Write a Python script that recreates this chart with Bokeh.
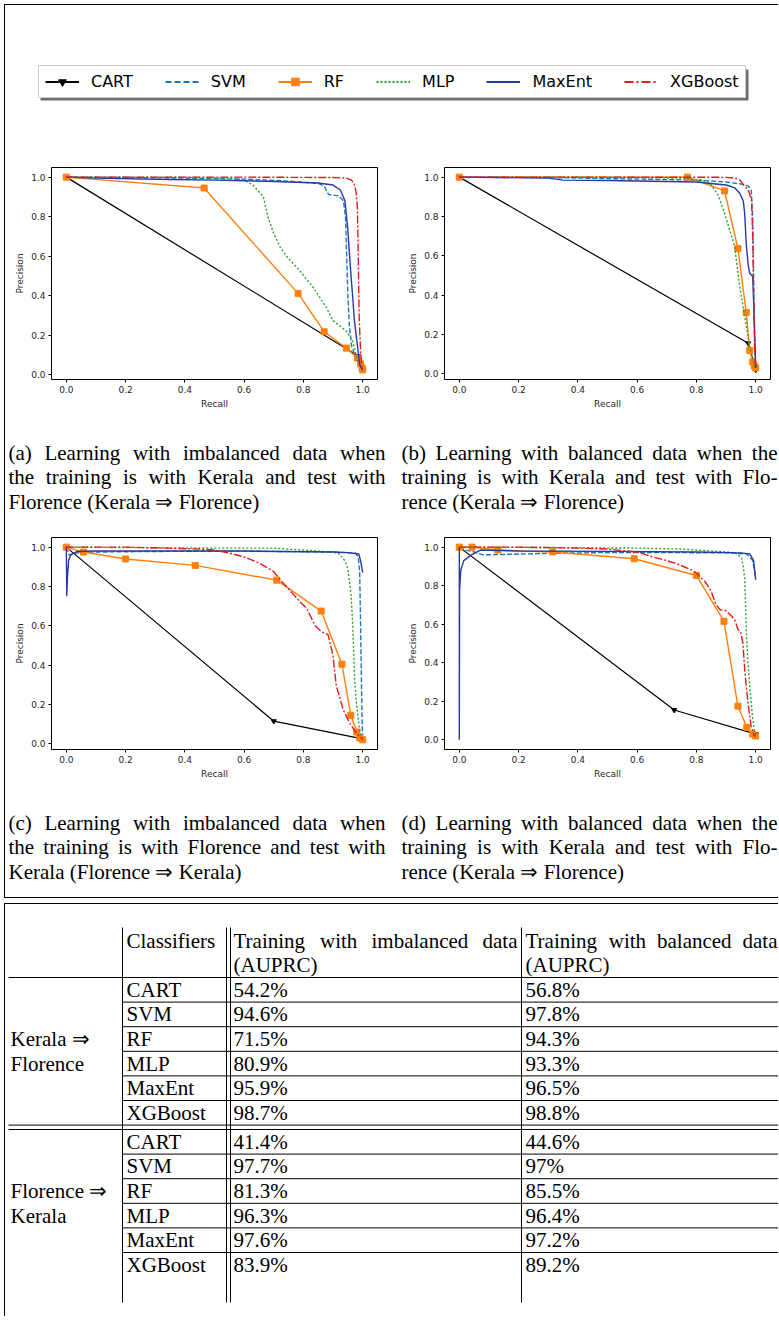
from bokeh.plotting import figure
from bokeh.models import (Range1d, FixedTicker, PrintfTickFormatter, Legend,
                          LegendItem, ColumnDataSource, BoxAnnotation)
from bokeh.layouts import column, row
from bokeh.embed import file_html
from bokeh.resources import INLINE
from bokeh.core.properties import value

classifiers = ["CART", "SVM", "RF", "MLP", "MaxEnt", "XGBoost"]

# ---------- (a) imbalanced, Kerala => Florence ----------
a_cart_recall = [0.0, 0.985, 1.0]
a_cart_precision = [1.0, 0.095, 0.025]
a_svm_recall = [0.0, 0.2, 0.4, 0.6, 0.75, 0.85, 0.87, 0.885, 0.92, 0.935, 0.942, 0.946, 0.95, 0.955, 0.962, 0.975, 0.99, 1.0]
a_svm_precision = [1.0, 0.998, 0.995, 0.99, 0.98, 0.968, 0.955, 0.912, 0.905, 0.88, 0.8, 0.6, 0.4, 0.25, 0.15, 0.09, 0.045, 0.025]
a_rf_recall = [0.0, 0.465, 0.782, 0.87, 0.945, 0.982, 0.993, 0.998, 1.0]
a_rf_precision = [1.0, 0.945, 0.412, 0.218, 0.135, 0.085, 0.055, 0.035, 0.025]
a_mlp_recall = [0.0, 0.2, 0.4, 0.55, 0.6, 0.63, 0.665, 0.68, 0.70, 0.72, 0.745, 0.787, 0.832, 0.877, 0.9, 0.944, 0.966, 0.983, 0.995, 1.0]
a_mlp_precision = [1.0, 1.0, 0.999, 0.995, 0.985, 0.96, 0.9, 0.8, 0.715, 0.65, 0.596, 0.528, 0.444, 0.342, 0.274, 0.223, 0.172, 0.07, 0.04, 0.025]
a_maxent_recall = [0.0, 0.1, 0.35, 0.5, 0.7, 0.85, 0.9, 0.925, 0.94, 0.949, 0.955, 0.961, 0.967, 0.972, 0.983, 0.99, 1.0]
a_maxent_precision = [1.0, 0.995, 0.988, 0.985, 0.978, 0.97, 0.96, 0.935, 0.88, 0.75, 0.62, 0.495, 0.38, 0.275, 0.139, 0.05, 0.025]
a_xgb_recall = [0.0, 0.3, 0.6, 0.9, 0.945, 0.962, 0.972, 0.978, 0.982, 0.984, 0.986, 0.988, 0.992, 0.996, 1.0]
a_xgb_precision = [1.0, 1.0, 1.0, 0.998, 0.995, 0.985, 0.965, 0.92, 0.85, 0.7, 0.5, 0.3, 0.15, 0.06, 0.025]

# ---------- (b) balanced, Kerala => Florence ----------
b_cart_recall = [0.0, 0.975, 1.0]
b_cart_precision = [1.0, 0.155, 0.02]
b_svm_recall = [0.0, 0.3, 0.6, 0.8, 0.9, 0.95, 0.975, 0.985, 0.99, 0.993, 0.996, 1.0]
b_svm_precision = [1.0, 0.998, 0.99, 0.985, 0.975, 0.965, 0.955, 0.935, 0.8, 0.5, 0.2, 0.03]
b_rf_recall = [0.0, 0.77, 0.895, 0.94, 0.968, 0.98, 0.99, 0.995, 1.0]
b_rf_precision = [1.0, 1.0, 0.93, 0.637, 0.312, 0.118, 0.06, 0.04, 0.03]
b_mlp_recall = [0.0, 0.3, 0.6, 0.75, 0.82, 0.85, 0.873, 0.895, 0.916, 0.929, 0.946, 0.963, 0.98, 0.997, 1.0]
b_mlp_precision = [1.0, 1.0, 0.998, 0.995, 0.985, 0.96, 0.91, 0.815, 0.713, 0.647, 0.445, 0.291, 0.139, 0.036, 0.025]
b_maxent_recall = [0.0, 0.3, 0.35, 0.5, 0.7, 0.8, 0.9, 0.93, 0.946, 0.958, 0.963, 0.968, 0.975, 0.98, 0.99, 0.996, 1.0]
b_maxent_precision = [1.0, 0.995, 0.985, 0.983, 0.978, 0.975, 0.96, 0.945, 0.918, 0.88, 0.815, 0.664, 0.55, 0.511, 0.495, 0.24, 0.03]
b_xgb_recall = [0.0, 0.5, 0.9, 0.93, 0.946, 0.96, 0.975, 0.986, 0.99, 0.993, 0.996, 1.0]
b_xgb_precision = [1.0, 1.0, 0.999, 0.995, 0.986, 0.96, 0.935, 0.885, 0.7, 0.4, 0.15, 0.03]

# ---------- (c) imbalanced, Florence => Kerala ----------
c_cart_recall = [0.0, 0.70, 1.0]
c_cart_precision = [1.0, 0.115, 0.025]
c_svm_recall = [0.0, 0.01, 0.03, 0.1, 0.3, 0.6, 0.9, 0.975, 0.985, 0.99, 0.993, 0.996, 0.998, 1.0]
c_svm_precision = [1.0, 0.96, 0.97, 0.975, 0.978, 0.98, 0.975, 0.97, 0.95, 0.87, 0.6, 0.3, 0.12, 0.025]
c_rf_recall = [0.0, 0.058, 0.2, 0.435, 0.71, 0.86, 0.93, 0.96, 0.98, 0.99, 1.0]
c_rf_precision = [1.0, 0.975, 0.94, 0.907, 0.832, 0.675, 0.405, 0.145, 0.06, 0.03, 0.02]
c_mlp_recall = [0.0, 0.2, 0.5, 0.7, 0.8, 0.9, 0.922, 0.94, 0.95, 0.956, 0.961, 0.964, 0.967, 0.97, 0.973, 0.978, 0.984, 0.99, 0.995, 1.0]
c_mlp_precision = [1.0, 0.998, 0.995, 0.995, 0.985, 0.975, 0.965, 0.93, 0.889, 0.82, 0.752, 0.67, 0.58, 0.45, 0.325, 0.22, 0.139, 0.07, 0.035, 0.025]
c_maxent_recall = [0.0, 0.0015, 0.004, 0.008, 0.015, 0.036, 0.1, 0.3, 0.6, 0.9, 0.95, 0.987, 0.993, 1.0]
c_maxent_precision = [1.0, 0.75, 0.85, 0.935, 0.96, 0.978, 0.98, 0.98, 0.98, 0.975, 0.972, 0.965, 0.93, 0.87]
c_xgb_recall = [0.0, 0.2, 0.45, 0.5, 0.55, 0.6, 0.65, 0.7, 0.73, 0.76, 0.79, 0.81, 0.84, 0.86, 0.883, 0.892, 0.9, 0.911, 0.922, 0.934, 0.945, 0.956, 0.978, 0.995, 1.0]
c_xgb_precision = [1.0, 1.0, 0.99, 0.985, 0.97, 0.95, 0.92, 0.875, 0.82, 0.77, 0.72, 0.69, 0.6, 0.57, 0.555, 0.5, 0.446, 0.293, 0.24, 0.174, 0.14, 0.106, 0.055, 0.03, 0.02]

# ---------- (d) balanced ----------
d_cart_recall = [0.0, 0.725, 1.0]
d_cart_precision = [1.0, 0.155, 0.03]
d_svm_recall = [0.0, 0.02, 0.05, 0.08, 0.15, 0.3, 0.5, 0.7, 0.9, 0.97, 0.99, 1.0]
d_svm_precision = [1.0, 0.985, 0.975, 0.96, 0.962, 0.968, 0.972, 0.972, 0.97, 0.965, 0.93, 0.84]
d_rf_recall = [0.0, 0.043, 0.13, 0.315, 0.59, 0.8, 0.893, 0.94, 0.97, 0.99, 1.0]
d_rf_precision = [1.0, 1.0, 0.985, 0.975, 0.94, 0.853, 0.615, 0.175, 0.065, 0.03, 0.02]
d_mlp_recall = [0.0, 0.3, 0.6, 0.75, 0.85, 0.9, 0.93, 0.952, 0.958, 0.963, 0.966, 0.968, 0.971, 0.974, 0.98, 0.985, 0.99, 0.996, 1.0]
d_mlp_precision = [1.0, 0.998, 0.995, 0.99, 0.98, 0.975, 0.97, 0.948, 0.9, 0.835, 0.7, 0.574, 0.48, 0.4, 0.28, 0.19, 0.11, 0.052, 0.025]
d_maxent_recall = [0.0, 0.0, 0.001, 0.005, 0.015, 0.037, 0.071, 0.2, 0.5, 0.8, 0.95, 0.98, 0.993, 1.0]
d_maxent_precision = [1.0, 0.0, 0.78, 0.88, 0.93, 0.956, 0.985, 0.98, 0.978, 0.975, 0.97, 0.965, 0.93, 0.83]
d_xgb_recall = [0.0, 0.2, 0.4, 0.5, 0.6, 0.65, 0.7, 0.74, 0.79, 0.83, 0.85, 0.865, 0.88, 0.9, 0.92, 0.93, 0.94, 0.95, 0.957, 0.963, 0.968, 0.974, 0.985, 0.996, 1.0]
d_xgb_precision = [1.0, 1.0, 0.995, 0.99, 0.975, 0.95, 0.93, 0.91, 0.878, 0.82, 0.77, 0.705, 0.675, 0.67, 0.64, 0.62, 0.574, 0.557, 0.5, 0.365, 0.28, 0.19, 0.068, 0.02, 0.02]

# ---------- table (AUPRC, %) ----------
kf_imbalanced = [54.2, 94.6, 71.5, 80.9, 95.9, 98.7]
kf_balanced = [56.8, 97.8, 94.3, 93.3, 96.5, 98.8]
fk_imbalanced = [41.4, 97.7, 81.3, 96.3, 97.6, 83.9]
fk_balanced = [44.6, 97.0, 85.5, 96.4, 97.2, 89.2]

captions = {
    "a": ["(a) Learning with imbalanced data when", "the training is with Kerala and test with", "Florence (Kerala \u21d2 Florence)"],
    "b": ["(b) Learning with balanced data when the", "training is with Kerala and test with Flo-", "rence (Kerala \u21d2 Florence)"],
    "c": ["(c) Learning with imbalanced data when", "the training is with Florence and test with", "Kerala (Florence \u21d2 Kerala)"],
    "d": ["(d) Learning with balanced data when the", "training is with Kerala and test with Flo-", "rence (Kerala \u21d2 Florence)"],
}

panels = {
    "a": [(a_cart_recall, a_cart_precision), (a_svm_recall, a_svm_precision), (a_rf_recall, a_rf_precision),
          (a_mlp_recall, a_mlp_precision), (a_maxent_recall, a_maxent_precision), (a_xgb_recall, a_xgb_precision)],
    "b": [(b_cart_recall, b_cart_precision), (b_svm_recall, b_svm_precision), (b_rf_recall, b_rf_precision),
          (b_mlp_recall, b_mlp_precision), (b_maxent_recall, b_maxent_precision), (b_xgb_recall, b_xgb_precision)],
    "c": [(c_cart_recall, c_cart_precision), (c_svm_recall, c_svm_precision), (c_rf_recall, c_rf_precision),
          (c_mlp_recall, c_mlp_precision), (c_maxent_recall, c_maxent_precision), (c_xgb_recall, c_xgb_precision)],
    "d": [(d_cart_recall, d_cart_precision), (d_svm_recall, d_svm_precision), (d_rf_recall, d_rf_precision),
          (d_mlp_recall, d_mlp_precision), (d_maxent_recall, d_maxent_precision), (d_xgb_recall, d_xgb_precision)],
}

# ---------- styles ----------
COLOR = {"CART": "#000000", "SVM": "#1f77b4", "RF": "#ff7f0e", "MLP": "#2ca02c",
         "MaxEnt": "#2639a8", "XGBoost": "#e8191b"}
DASH = {"CART": "solid", "SVM": "5 2", "RF": "solid", "MLP": "2 2", "MaxEnt": "solid", "XGBoost": "8 2 2 2"}
LEG_DASH = {"CART": "solid", "SVM": "6 3", "RF": "solid", "MLP": "2 2", "MaxEnt": "solid", "XGBoost": "9 3 2 3"}
LW = {"CART": 1.2, "SVM": 1.4, "RF": 1.4, "MLP": 1.4, "MaxEnt": 1.4, "XGBoost": 1.4}
MARKER = {"CART": ("inverted_triangle", 5), "RF": ("square", 6)}
TICKS = [0.0, 0.2, 0.4, 0.6, 0.8, 1.0]
FULL_W = 773
SERIF = "Liberation Serif"
SANS = "DejaVu Sans"


def padded(vals):
    lo, hi = min(vals), max(vals)
    m = 0.05 * (hi - lo)
    return Range1d(lo - m, hi + m)


def pr_plot(series, width, left, right):
    all_r = [v for r, _ in series for v in r]
    all_p = [v for _, pp in series for v in pp]
    p = figure(width=width, height=257, x_range=padded(all_r), y_range=padded(all_p),
               toolbar_location=None, output_backend="svg",
               min_border_left=left, min_border_right=right, min_border_top=12, min_border_bottom=33)
    p.grid.visible = False
    p.outline_line_color = "black"
    p.outline_line_width = 1
    p.outline_line_alpha = 1
    p.background_fill_color = "white"
    p.border_fill_color = "white"
    p.xaxis.axis_label = "Recall"
    p.yaxis.axis_label = "Precision"
    for ax in (p.xaxis[0], p.yaxis[0]):
        ax.ticker = FixedTicker(ticks=TICKS)
        ax.formatter = PrintfTickFormatter(format="%.1f")
        ax.major_label_text_font = SANS
        ax.major_label_text_font_size = "9px"
        ax.major_label_text_color = "#262626"
        ax.axis_label_text_font = SANS
        ax.axis_label_text_font_size = "9px"
        ax.axis_label_text_font_style = "normal"
        ax.axis_label_text_color = "#262626"
        ax.major_tick_out = 3
        ax.major_tick_in = 0
        ax.minor_tick_out = 0
        ax.minor_tick_in = 0
        ax.axis_line_color = None
        ax.major_label_standoff = 3
        ax.axis_label_standoff = 3
    for name, (r, pr) in zip(classifiers, series):
        p.line(r, pr, line_color=COLOR[name], line_width=LW[name], line_dash=DASH[name])
        if name in MARKER:
            mk, sz = MARKER[name]
            p.scatter(r, pr, marker=mk, size=sz, color=COLOR[name])
    return p


def text_fig(y_top, height):
    f = figure(width=FULL_W, height=height, x_range=Range1d(5, 5 + FULL_W),
               y_range=Range1d(y_top + height, y_top), x_axis_type=None, y_axis_type=None,
               toolbar_location=None, output_backend="svg", min_border=0)
    f.outline_line_color = None
    f.grid.visible = False
    return f


# Times / Liberation Serif advance widths (per 1000 em)
TW = dict(zip("ABCDEFGHIJKLMNOPQRSTUVWXYZ",
              [722, 667, 667, 722, 611, 556, 722, 722, 333, 389, 722, 611, 889, 722, 722, 556, 722, 667, 556, 611, 722, 722, 944, 722, 722, 611]))
TW.update(zip("abcdefghijklmnopqrstuvwxyz",
              [444, 500, 444, 500, 444, 333, 500, 500, 278, 278, 500, 278, 778, 500, 500, 500, 500, 333, 389, 278, 500, 500, 722, 500, 500, 444]))
TW.update({"(": 333, ")": 333, "-": 333, ".": 250, "%": 833, " ": 250})
TW.update({d: 500 for d in "0123456789"})


def tw(s, size):
    return sum(TW.get(ch, 600) for ch in s) / 1000.0 * size


def put_text(f, text, x0, x1, y, size=21, justify=False):
    kw = dict(text_font=value(SERIF), text_font_size=value("%dpx" % size),
              text_baseline="middle", text_color="black")
    words = text.split(" ")
    if justify and len(words) > 1:
        widths = [tw(w, size) for w in words]
        gap = (x1 - x0 - sum(widths)) / (len(words) - 1)
        xs, x = [], x0
        for w in widths:
            xs.append(x)
            x += w + gap
        f.text(x=xs[:-1], y=[y] * (len(words) - 1), text=words[:-1], text_align="left", **kw)
        f.text(x=[x1], y=[y], text=[words[-1]], text_align="right", **kw)
    else:
        f.text(x=[x0], y=[y], text=[text], text_align="left", **kw)


# ---------- legend figure ----------
leg = figure(width=FULL_W, height=150, x_axis_type=None, y_axis_type=None, toolbar_location=None,
             output_backend="svg", min_border=0, x_range=Range1d(0, 1), y_range=Range1d(0, 1))
leg.outline_line_color = None
leg.grid.visible = False
nan = float("nan")
leg_renderers = []
for name in classifiers:
    src = ColumnDataSource(dict(x=[nan], y=[nan]))
    rs = [leg.line("x", "y", source=src, line_color=COLOR[name], line_width=2, line_dash=LEG_DASH[name])]
    if name in MARKER:
        rs.append(leg.scatter("x", "y", source=src, marker=MARKER[name][0], size=8, color=COLOR[name]))
    leg_renderers.append(rs)

# drop shadow behind the legend box (screen units, measured from the bottom-left of the frame)
shadow = BoxAnnotation(left=35, right=743, bottom=55, top=86, left_units="screen", right_units="screen",
                       bottom_units="screen", top_units="screen", fill_color="#555555", fill_alpha=0.85,
                       line_color=None)
legend = Legend(items=[LegendItem(label=n, renderers=rs) for n, rs in zip(classifiers, leg_renderers)],
                location=(33, 57), orientation="horizontal", glyph_width=34, glyph_height=19,
                label_height=19, label_standoff=12, spacing=32, padding=6, margin=0,
                label_text_font=SANS, label_text_font_size="16px", label_text_color="black",
                border_line_color="#cccccc", border_line_width=1, border_line_alpha=1,
                background_fill_color="white", background_fill_alpha=1)
leg.add_layout(shadow)
leg.add_layout(legend, "center")

# ---------- subplots ----------
pa = pr_plot(panels["a"], 385, 46, 13)
pb = pr_plot(panels["b"], 388, 54, 8)
pc = pr_plot(panels["c"], 385, 46, 13)
pd_ = pr_plot(panels["d"], 388, 54, 8)

# ---------- captions ----------
cap1 = text_fig(412, 113)
cap2 = text_fig(782, 115)
for f, keys, ys in ((cap1, ("a", "b"), (452, 476, 501)), (cap2, ("c", "d"), (822, 846, 871))):
    for key, (x0, x1) in zip(keys, ((8, 385), (401, 777))):
        lines = captions[key]
        for i, (ln, yc) in enumerate(zip(lines, ys)):
            put_text(f, ln, x0, x1, yc, justify=(i < len(lines) - 1))

# ---------- table ----------
TOP = 904
tab = text_fig(TOP, 412)
col_x = [10, 126, 233, 525]
vlines_x = [122, 226, 230, 521]
pitch = 24.6
g1_top, g2_top = 977, 1129
tab.segment(x0=vlines_x, y0=[927] * 4, x1=vlines_x, y1=[1302] * 4, line_color="black", line_width=1)
tab.segment(x0=[8, 8, 8], y0=[g1_top, g1_top + 6 * pitch, g2_top], x1=[778] * 3,
            y1=[g1_top, g1_top + 6 * pitch, g2_top], line_color="black", line_width=1)
row_lines = [g1_top + i * pitch for i in range(1, 6)] + [g2_top + i * pitch for i in range(1, 6)]
tab.segment(x0=[122] * len(row_lines), y0=row_lines, x1=[778] * len(row_lines), y1=row_lines,
            line_color="black", line_width=1)

put_text(tab, "Classifiers", col_x[1], 0, 940)
put_text(tab, "Training with imbalanced data", col_x[2], 517, 940, justify=True)
put_text(tab, "Training with balanced data", col_x[3], 777, 940, justify=True)
put_text(tab, "(AUPRC)", col_x[2], 0, 964)
put_text(tab, "(AUPRC)", col_x[3], 0, 964)

for top, labels, imb, bal in ((g1_top, ("Kerala \u21d2", "Florence"), kf_imbalanced, kf_balanced),
                              (g2_top, ("Florence \u21d2", "Kerala"), fk_imbalanced, fk_balanced)):
    for i, name in enumerate(classifiers):
        yc = top + i * pitch + pitch / 2
        put_text(tab, name, col_x[1], 0, yc)
        put_text(tab, "{:g}%".format(imb[i]), col_x[2], 0, yc)
        put_text(tab, "{:g}%".format(bal[i]), col_x[3], 0, yc)
    put_text(tab, labels[0], col_x[0], 0, top + 2.5 * pitch)
    put_text(tab, labels[1], col_x[0], 0, top + 3.5 * pitch)

top_panel = column(leg, row(pa, pb), cap1, row(pc, pd_), cap2,
                   styles={"border-top": "1px solid black", "border-left": "1px solid black",
                           "border-bottom": "1px solid black"})
table_panel = column(tab, styles={"margin-top": "5px", "border-top": "1px solid black",
                                  "border-left": "1px solid black"})
root = column(top_panel, table_panel, styles={"margin-top": "4px", "margin-left": "4px"})

open("out.html", "w").write(file_html(root, INLINE))
